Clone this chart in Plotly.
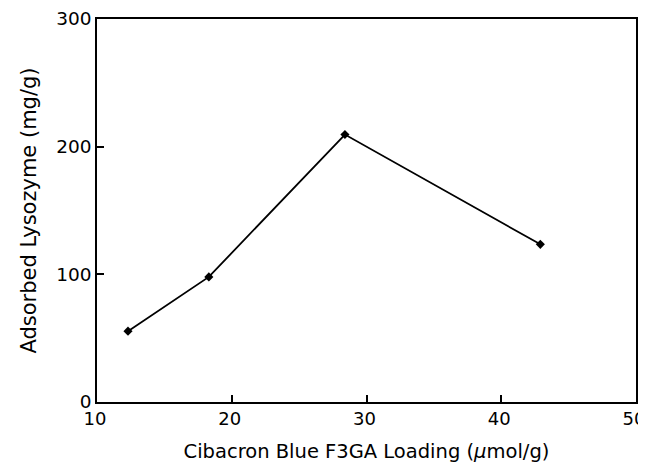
import plotly.graph_objects as go

loading = [12.3, 18.3, 28.4, 42.9]
lysozyme = [55.5, 98.0, 209.5, 123.5]
x_ticks = [10, 20, 30, 40, 50]
y_ticks = [0, 100, 200, 300]

fig = go.Figure()
fig.add_trace(go.Scatter(
    x=loading, y=lysozyme, mode="lines+markers",
    line=dict(color="black", width=1.8),
    marker=dict(symbol="diamond", size=7, color="black"),
    showlegend=False,
))

font = "DejaVu Sans, sans-serif"
# page has an 8px body margin, so the figure is sized to fit the 646x463 window
fig.update_layout(
    width=638, height=455,
    margin=dict(l=89, r=10, t=11, b=61),
    paper_bgcolor="white", plot_bgcolor="white",
    font=dict(family=font, color="black", size=18),
)
fig.update_xaxes(
    range=[10, 50], tickvals=x_ticks, ticktext=[str(v) for v in x_ticks],
    ticks="inside", ticklen=7, tickwidth=1.5, tickcolor="black",
    showline=True, linecolor="black", linewidth=1.5, mirror=True,
    showgrid=False, zeroline=False, automargin=False,
    tickfont=dict(size=18), ticklabelshift=-2, ticklabeloverflow="allow",
    title=dict(text="Cibacron Blue F3GA Loading (<i>μ</i>mol/g)", font=dict(size=19.5), standoff=16),
)
fig.update_yaxes(
    range=[0, 300], tickvals=y_ticks, ticktext=[str(v) for v in y_ticks],
    ticks="inside", ticklen=7, tickwidth=1.5, tickcolor="black",
    showline=True, linecolor="black", linewidth=1.5, mirror=True,
    showgrid=False, zeroline=False, automargin=False,
    tickfont=dict(size=18.5), ticklabeloverflow="allow",
    title=dict(text="Adsorbed Lysozyme (mg/g)", font=dict(size=21), standoff=14),
)
fig.write_html("out.html")
